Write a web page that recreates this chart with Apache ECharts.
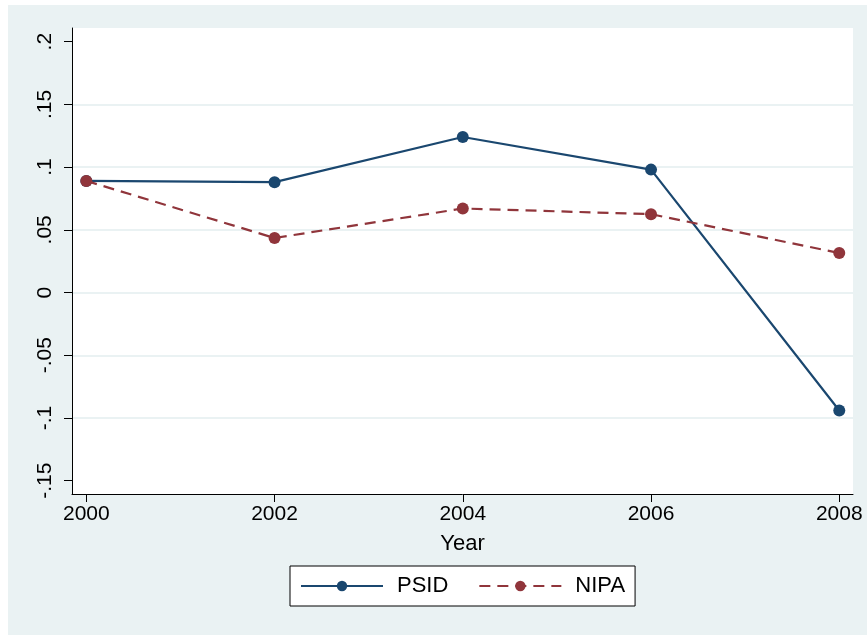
<!DOCTYPE html>
<html>
<head>
<meta charset="utf-8">
<script src="https://cdn.jsdelivr.net/npm/echarts@6/dist/echarts.min.js"></script>
<style>
  html, body { margin: 0; padding: 0; background: #ffffff; }
  #chart { width: 867px; height: 635px; }
</style>
</head>
<body>
<div id="chart"></div>
<script>
// Growth rates by survey year
const years = [2000, 2002, 2004, 2006, 2008];
const psid = [0.089, 0.088, 0.124, 0.098, -0.094];
const nipa = [0.089, 0.0435, 0.067, 0.0625, 0.0315];
const yTicks = [-0.15, -0.1, -0.05, 0, 0.05, 0.1, 0.15, 0.2];
const yTickLabels = ['-.15', '-.1', '-.05', '0', '.05', '.1', '.15', '.2'];
const xTitle = 'Year';
const seriesNames = ['PSID', 'NIPA'];

const NAVY = '#1a476f';
const MAROON = '#90353b';
const FONT = '"Liberation Sans", Arial, sans-serif';

const chart = echarts.init(document.getElementById('chart'), null, { renderer: 'canvas' });

function yLabel(v) {
  const i = yTicks.findIndex(t => Math.abs(t - v) < 1e-9);
  return i >= 0 ? yTickLabels[i] : '';
}

const option = {
  animation: false,
  backgroundColor: '#ffffff',
  graphic: [
    {
      type: 'rect', z: -10, silent: true,
      shape: { x: 8, y: 5, width: 859, height: 630 },
      style: { fill: '#eaf2f3' }
    }
  ],
  grid: {
    left: 72, right: 14, top: 28, bottom: 141,
    show: true, backgroundColor: '#ffffff', borderWidth: 0
  },
  legend: {
    data: seriesNames.map(n => ({ name: n })),
    left: 290, top: 566,
    padding: [9, 10, 9, 10],
    itemGap: 30,
    itemWidth: 82, itemHeight: 13,
    backgroundColor: '#ffffff',
    borderColor: '#000000', borderWidth: 1, borderRadius: 0,
    textStyle: { fontFamily: FONT, fontSize: 22, color: '#000000', padding: [0, 0, 0, 9] }
  },
  xAxis: {
    type: 'value',
    min: 1999.848, max: 2008.146,
    name: xTitle,
    nameLocation: 'middle', nameGap: 39,
    nameTextStyle: { fontFamily: FONT, fontSize: 22, color: '#000000' },
    axisLine: { show: true, onZero: false, lineStyle: { color: '#000000', width: 1 } },
    axisTick: { show: true, length: 8, customValues: years, lineStyle: { color: '#000000' } },
    axisLabel: {
      customValues: years, fontFamily: FONT, fontSize: 21, color: '#000000', margin: 10,
      formatter: v => String(Math.round(v))
    },
    splitLine: { show: false }
  },
  yAxis: {
    type: 'value',
    min: -0.1606, max: 0.2109,
    axisLine: { show: true, onZero: false, lineStyle: { color: '#000000', width: 1 } },
    axisTick: { show: true, length: 8, customValues: yTicks, lineStyle: { color: '#000000' } },
    axisLabel: {
      customValues: yTicks, rotate: 90, fontFamily: FONT, fontSize: 21, color: '#000000', margin: 16,
      formatter: yLabel
    },
    splitLine: { show: false }
  },
  series: [
    {
      // horizontal grid lines at the inner ticks
      name: 'grid',
      type: 'line',
      data: [],
      silent: true,
      z: 0,
      markLine: {
        silent: true, symbol: 'none', label: { show: false },
        z: 0,
        lineStyle: { color: '#eaf2f3', width: 2, type: 'solid' },
        data: yTicks.filter(t => t > -0.149 && t < 0.199).map(t => ({ yAxis: t }))
      }
    },
    {
      name: seriesNames[0],
      type: 'line',
      data: years.map((y, i) => [y, psid[i]]),
      symbol: 'circle', symbolSize: 12,
      itemStyle: { color: NAVY },
      lineStyle: { color: NAVY, width: 2.2 },
      z: 3
    },
    {
      name: seriesNames[1],
      type: 'line',
      data: years.map((y, i) => [y, nipa[i]]),
      symbol: 'circle', symbolSize: 12,
      itemStyle: { color: MAROON },
      lineStyle: { color: MAROON, width: 2.2, type: [11, 7] },
      z: 4
    }
  ]
};

chart.setOption(option);
</script>
</body>
</html>
